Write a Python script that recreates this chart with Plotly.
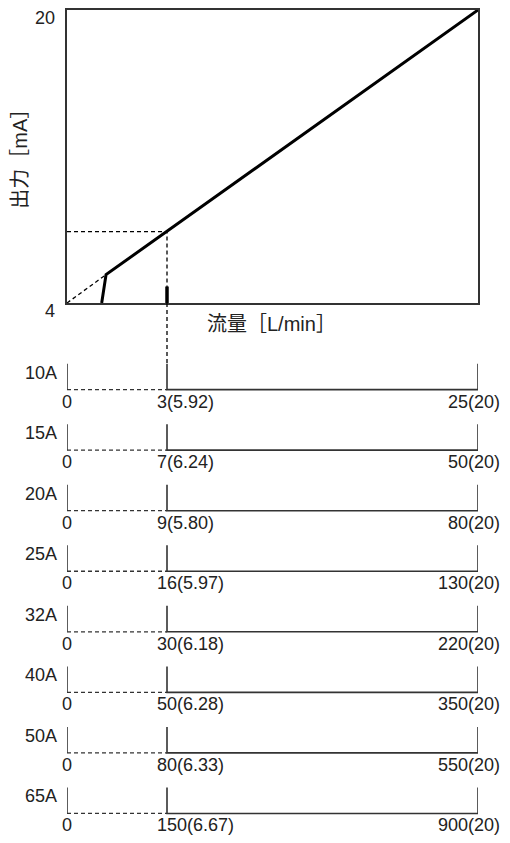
import plotly.graph_objects as go

# page has an 8px body margin; figure is sized to fit the 510x843 window
OFF = 8
W, H = 510 - 2 * OFF, 843 - 2 * OFF

# --- main chart (schematic, x in % of full scale, y in mA) ---
y_ticks = [4, 20]
y_tick_labels = ["4", "20"]
cut_x = [8.44, 9.5]          # low-flow cut-off foot -> kink
cut_y = [4.0, 5.55]
line_x = [9.5, 100.0]        # linear output
line_y = [5.55, 20.0]
ext_x = [0.0, 9.5]           # dashed extension to origin
ext_y = [4.0, 5.55]
ref_x = 24.33                # example point
ref_y = 7.9

# --- flow scales for each size ---
sizes = ["10A", "15A", "20A", "25A", "32A", "40A", "50A", "65A"]
mid_flow = ["3", "7", "9", "16", "30", "50", "80", "150"]
mid_out = ["5.92", "6.24", "5.80", "5.97", "6.18", "6.28", "6.33", "6.67"]
full_flow = ["25", "50", "80", "130", "220", "350", "550", "900"]
full_out = "20"

FONT = "Liberation Sans, Arial, Noto Sans CJK JP"
TXT = "#222222"
LINE = "#333333"

# pixel geometry (window coords), converted to figure coords
def fx(p):
    return (p - OFF) / W

def fy(p):
    return 1 - (p - OFF) / H

px_l, px_r = 67, 478
px_t, px_b = 8, 301.7
row0_px, row_step = 388.5, 60.7
tick_h = 26 / row_step

fig = go.Figure()

dash = "4px,3px"
fig.add_trace(go.Scatter(x=ext_x, y=ext_y, mode="lines",
                         line=dict(color="black", width=1.3, dash=dash),
                         xaxis="x", yaxis="y", hoverinfo="skip"))
fig.add_trace(go.Scatter(x=[0, ref_x, ref_x], y=[ref_y, ref_y, 4], mode="lines",
                         line=dict(color="black", width=1.3, dash=dash),
                         xaxis="x", yaxis="y", hoverinfo="skip"))
fig.add_trace(go.Scatter(x=cut_x + line_x[1:], y=cut_y + line_y[1:], mode="lines",
                         line=dict(color="black", width=3),
                         xaxis="x", yaxis="y", hoverinfo="skip"))
fig.add_trace(go.Scatter(x=[ref_x, ref_x], y=[4, 4.9], mode="lines",
                         line=dict(color="black", width=3.5),
                         xaxis="x", yaxis="y", hoverinfo="skip"))

sx, sy, dx, dy = [], [], [], []
for i in range(len(sizes)):
    b = -i
    t = b + tick_h
    sx += [0, 0, None, ref_x, ref_x, 100, 100, None]
    sy += [t, b, None, t, b, b, t, None]
    dx += [0, ref_x, None]
    dy += [b, b, None]

y2_max = (row0_px - px_b) / row_step
y2_min = y2_max - (H + OFF - px_b) / row_step

fig.add_trace(go.Scatter(x=dx, y=dy, mode="lines",
                         line=dict(color=LINE, width=1.3, dash=dash),
                         xaxis="x2", yaxis="y2", hoverinfo="skip"))
fig.add_trace(go.Scatter(x=sx, y=sy, mode="lines",
                         line=dict(color=LINE, width=1.6),
                         xaxis="x2", yaxis="y2", hoverinfo="skip"))
fig.add_trace(go.Scatter(x=[ref_x, ref_x], y=[y2_max, tick_h], mode="lines",
                         line=dict(color="black", width=1.3, dash=dash),
                         xaxis="x2", yaxis="y2", hoverinfo="skip"))

ann = []
fs = 18
fst = 20
for v, lab in zip(y_ticks, y_tick_labels):
    ann.append(dict(x=0, y=v, xref="x", yref="y", text=lab, showarrow=False,
                    xanchor="right", yanchor="middle", xshift=-10, yshift=-8,
                    font=dict(family=FONT, size=fs, color=TXT)))
ann.append(dict(x=fx(20), y=fy(152), xref="paper", yref="paper", text="出力［mA］",
                showarrow=False, textangle=-90, xanchor="center", yanchor="middle",
                font=dict(family=FONT, size=fst, color=TXT)))
ann.append(dict(x=fx(271), y=fy(323), xref="paper", yref="paper", text="流量［L/min］",
                showarrow=False, xanchor="center", yanchor="middle",
                font=dict(family=FONT, size=fst, color=TXT)))

for i, s in enumerate(sizes):
    b = -i
    ann.append(dict(x=0, y=b, xref="x2", yref="y2", text=s, showarrow=False,
                    xanchor="right", yanchor="middle", xshift=-8, yshift=17,
                    font=dict(family=FONT, size=fs, color=TXT)))
    ann.append(dict(x=0, y=b, xref="x2", yref="y2", text="0", showarrow=False,
                    xanchor="center", yanchor="middle", yshift=-12, borderpad=0,
                    font=dict(family=FONT, size=fs, color=TXT)))
    ann.append(dict(x=ref_x, y=b, xref="x2", yref="y2",
                    text=f"{mid_flow[i]}({mid_out[i]})", showarrow=False,
                    xanchor="left", yanchor="middle", xshift=-11, yshift=-12,
                    borderpad=0, font=dict(family=FONT, size=fs, color=TXT)))
    ann.append(dict(x=100, y=b, xref="x2", yref="y2",
                    text=f"{full_flow[i]}({full_out})", showarrow=False,
                    xanchor="right", yanchor="middle", xshift=23, yshift=-12,
                    borderpad=0, font=dict(family=FONT, size=fs, color=TXT)))

xdom = [fx(px_l), fx(px_r)]
fig.update_layout(
    width=W, height=H, margin=dict(l=0, r=0, t=0, b=0),
    paper_bgcolor="white", plot_bgcolor="rgba(0,0,0,0)",
    showlegend=False,
    xaxis=dict(domain=xdom, range=[0, 100], showgrid=False, zeroline=False,
               showticklabels=False, ticks="", showline=True, mirror=True,
               linecolor=LINE, linewidth=1.5, anchor="y"),
    yaxis=dict(domain=[fy(px_b), fy(px_t)], range=[4, 20], showgrid=False,
               zeroline=False, showticklabels=False, ticks="", showline=True,
               mirror=True, linecolor=LINE, linewidth=1.5, anchor="x"),
    xaxis2=dict(domain=xdom, range=[0, 100], visible=False, anchor="y2"),
    yaxis2=dict(domain=[0, fy(px_b)], range=[y2_min, y2_max], visible=False,
                anchor="x2"),
    annotations=ann,
)

fig.write_html("out.html")
